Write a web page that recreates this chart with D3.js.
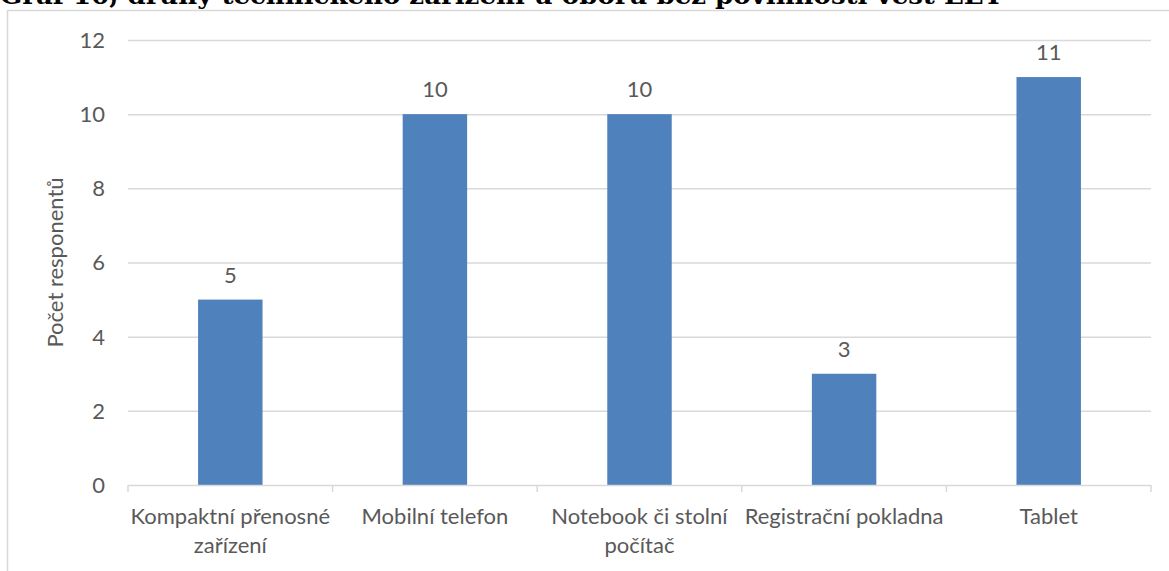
<!DOCTYPE html>
<html>
<head>
<meta charset="utf-8">
<script src="https://cdn.jsdelivr.net/npm/d3@7"></script>
<style>
  html, body { margin: 0; padding: 0; background: #fff; overflow: hidden; }
  text { font-family: Lato, "Open Sans", sans-serif; fill: #595959; }
</style>
</head>
<body>
<div id="chart"></div>
<script>
// data
var categories = ["Kompaktní přenosné zařízení", "Mobilní telefon", "Notebook či stolní počítač", "Registrační pokladna", "Tablet"];
var labelLines = [["Kompaktní přenosné", "zařízení"], ["Mobilní telefon"], ["Notebook či stolní", "počítač"], ["Registrační pokladna"], ["Tablet"]];
var counts = [5, 10, 10, 3, 11];
var yTicks = [0, 2, 4, 6, 8, 10, 12];
var title = "Graf 10, druhy technického zařízení u oborů bez povinnosti vést EET";
var yTitle = "Počet responentů";

var W = 1169, H = 571;
// plot box (note: "top" is taken by window.top)
var plotL = 128, plotR = 1151, plotT = 40, plotB = 485;
var fontSize = 22;

var svg = d3.select("#chart").append("svg").attr("width", W).attr("height", H);

// outer frame of the chart area
svg.append("rect")
  .attr("x", 7.5).attr("y", 10.5)
  .attr("width", 1300).attr("height", 700)
  .attr("fill", "none").attr("stroke", "#d9d9d9").attr("stroke-width", 1.5);

// title, top half is cut off by the page edge
svg.append("text")
  .attr("x", 0).attr("y", 4)
  .attr("textLength", 1003).attr("lengthAdjust", "spacingAndGlyphs")
  .style("font-family", "'DejaVu Serif', serif")
  .style("font-weight", "bold")
  .style("font-size", "25px")
  .style("fill", "#000")
  .text(title);

var x = d3.scaleBand().domain(categories).range([plotL, plotR]).padding(0);
var y = d3.scaleLinear().domain([0, 12]).range([plotB, plotT]);
var barW = x.bandwidth() * 0.315;

// gridlines
svg.append("g").selectAll("line")
  .data(yTicks.filter(function(d) { return d > 0; }))
  .enter().append("line")
    .attr("x1", plotL).attr("x2", plotR)
    .attr("y1", function(d) { return y(d) + 0.5; })
    .attr("y2", function(d) { return y(d) + 0.5; })
    .attr("stroke", "#d9d9d9").attr("stroke-width", 1.5);

// y labels
svg.append("g").selectAll("text")
  .data(yTicks)
  .enter().append("text")
    .attr("x", 105)
    .attr("y", function(d) { return y(d); })
    .attr("dy", "0.36em")
    .attr("text-anchor", "end")
    .style("font-size", fontSize + "px")
    .text(function(d) { return d; });

// y title
svg.append("text")
  .attr("transform", "translate(63," + ((plotT + plotB) / 2) + ") rotate(-90)")
  .attr("text-anchor", "middle")
  .style("font-size", fontSize + "px")
  .text(yTitle);

// bars
svg.append("g").selectAll("rect")
  .data(counts)
  .enter().append("rect")
    .attr("x", function(d, i) { return x(categories[i]) + (x.bandwidth() - barW) / 2; })
    .attr("y", function(d) { return y(d); })
    .attr("width", barW)
    .attr("height", function(d) { return y(0) - y(d); })
    .attr("fill", "#4f81bd");

// value labels
svg.append("g").selectAll("text")
  .data(counts)
  .enter().append("text")
    .attr("x", function(d, i) { return x(categories[i]) + x.bandwidth() / 2; })
    .attr("y", function(d) { return y(d) - 17; })
    .attr("text-anchor", "middle")
    .style("font-size", fontSize + "px")
    .text(function(d) { return d; });

// x axis line + ticks at band edges
var axis = svg.append("g").attr("stroke", "#d9d9d9").attr("stroke-width", 1.5);
axis.append("line")
  .attr("x1", plotL).attr("x2", plotR)
  .attr("y1", plotB + 0.5).attr("y2", plotB + 0.5);
var edges = categories.map(function(c) { return x(c); }).concat([plotR]);
axis.selectAll(".tick")
  .data(edges)
  .enter().append("line")
    .attr("class", "tick")
    .attr("x1", function(d) { return d; }).attr("x2", function(d) { return d; })
    .attr("y1", plotB).attr("y2", plotB + 7);

// x labels
var xl = svg.append("g").selectAll("text")
  .data(labelLines)
  .enter().append("text")
    .attr("text-anchor", "middle")
    .style("font-size", fontSize + "px");
xl.selectAll("tspan")
  .data(function(d, i) { return d.map(function(l) { return { line: l, i: i }; }); })
  .enter().append("tspan")
    .attr("x", function(d) { return x(categories[d.i]) + x.bandwidth() / 2; })
    .attr("y", function(d, j) { return 524 + j * 29; })
    .text(function(d) { return d.line; });
</script>
</body>
</html>
